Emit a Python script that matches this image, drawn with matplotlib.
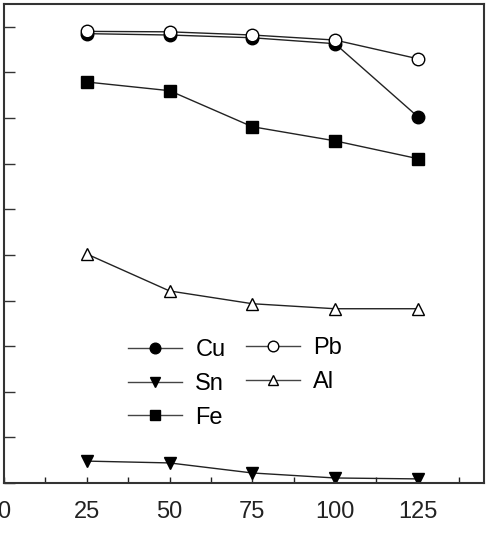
import matplotlib
matplotlib.use("Agg")
import matplotlib.pyplot as plt
from matplotlib.ticker import MultipleLocator

plt.rcParams['font.family'] = ['Liberation Sans', 'DejaVu Sans']

x = [25, 50, 75, 100, 125]
cu = [9.85, 9.82, 9.76, 9.63, 8.03]
pb = [9.90, 9.89, 9.82, 9.71, 9.30]
fe = [8.79, 8.60, 7.81, 7.50, 7.11]
al = [5.02, 4.21, 3.93, 3.82, 3.82]
sn = [0.48, 0.44, 0.22, 0.11, 0.09]
xticks = [0, 25, 50, 75, 100, 125]

W, H = 496, 538
fig = plt.figure(figsize=(W/100, H/100), dpi=100)
ax = fig.add_axes([4/W, 1-483/H, 480/W, 479/H])

lc = '#222222'
kw = dict(color=lc, lw=1.0, markeredgecolor='black', markeredgewidth=1.0)
l_cu, = ax.plot(x, cu, marker='o', ms=9, markerfacecolor='black', label='Cu', **kw)
l_pb, = ax.plot(x, pb, marker='o', ms=9, markerfacecolor='white', label='Pb', **kw)
l_fe, = ax.plot(x, fe, marker='s', ms=8, markerfacecolor='black', label='Fe', **kw)
l_al, = ax.plot(x, al, marker='^', ms=8, markerfacecolor='white', label='Al', **kw)
l_sn, = ax.plot(x, sn, marker='v', ms=8, markerfacecolor='black', label='Sn', **kw)

ax.set_xlim(0, 145)
ax.set_ylim(0, 10.5)
ax.set_xticks(xticks)
ax.set_xticklabels([str(v) for v in xticks])
ax.xaxis.set_minor_locator(MultipleLocator(12.5))
ax.yaxis.set_major_locator(MultipleLocator(1))
ax.set_yticklabels([])
ax.tick_params(axis='x', which='both', direction='in', length=4, width=1, pad=13,
               labelsize=17, colors='#222222')
ax.tick_params(axis='y', which='major', direction='in', length=8, width=1, labelleft=False,
               colors='#333333')
for s in ax.spines.values():
    s.set_linewidth(1.5)
    s.set_color('#333333')

common = dict(frameon=False, fontsize=17, loc='upper left', bbox_transform=fig.transFigure,
              borderpad=0, borderaxespad=0, handlelength=2.3, handletextpad=0.55,
              labelspacing=0.5, markerscale=0.85)
leg1 = ax.legend(handles=[l_cu, l_sn, l_fe], bbox_to_anchor=(128/W, 1-339/H), **common)
ax.add_artist(leg1)
leg2 = ax.legend(handles=[l_pb, l_al], bbox_to_anchor=(246/W, 1-337/H), **common)
for leg in (leg1, leg2):
    for h in leg.legend_handles:
        h.set_color('#444444')
        h.set_markeredgecolor('black')

fig.savefig('out.png', dpi=100)
